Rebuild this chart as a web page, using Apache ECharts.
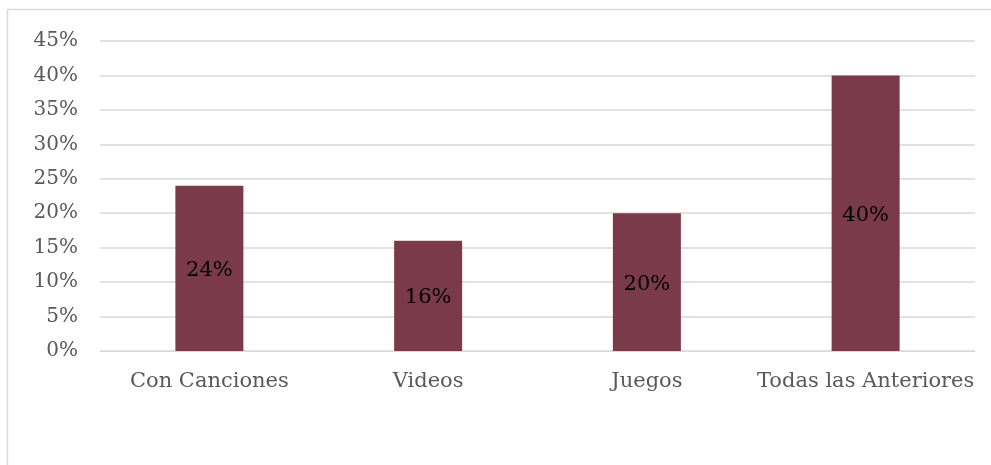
<!DOCTYPE html>
<html>
<head>
<meta charset="utf-8">
<script src="https://cdn.jsdelivr.net/npm/echarts@6/dist/echarts.min.js"></script>
<style>
  html, body { margin: 0; padding: 0; background: #ffffff; }
  #chart { width: 991px; height: 465px; }
</style>
</head>
<body>
<div id="chart"></div>
<script>
// Share of preferred activity types
const categories = ['Con Canciones', 'Videos', 'Juegos', 'Todas las Anteriores'];
const shares = [24, 16, 20, 40];
const yTicks = { min: 0, max: 45, interval: 5 };

const FONT = '"DejaVu Serif", "Liberation Serif", serif';

const chart = echarts.init(document.getElementById('chart'));
chart.setOption({
  animation: false,
  backgroundColor: '#ffffff',
  graphic: [{
    type: 'rect',
    shape: { x: 7.5, y: 9.5, width: 1100, height: 600 },
    style: { fill: 'none', stroke: '#d9d9d9', lineWidth: 1.5 },
    silent: true
  }],
  grid: { left: 100, right: 16, top: 41, bottom: 114, containLabel: false },
  xAxis: {
    type: 'category',
    data: categories,
    axisLine: { show: true, lineStyle: { color: '#d9d9d9', width: 1 } },
    axisTick: { show: false },
    axisLabel: { color: '#595959', fontFamily: FONT, fontSize: 21, margin: 20, interval: 0 }
  },
  yAxis: {
    type: 'value',
    min: yTicks.min,
    max: yTicks.max,
    interval: yTicks.interval,
    axisLine: { show: false },
    axisTick: { show: false },
    splitLine: { lineStyle: { color: '#d9d9d9', width: 1.5 } },
    axisLabel: {
      color: '#595959', fontFamily: FONT, fontSize: 20, margin: 22,
      formatter: v => v + '%'
    }
  },
  series: [{
    type: 'bar',
    data: shares,
    barWidth: 68,
    itemStyle: { color: '#7b3a4a' },
    label: {
      show: true,
      position: 'inside',
      color: '#000000',
      fontFamily: FONT,
      fontSize: 21,
      offset: [0, 2],
      formatter: p => p.value + '%'
    }
  }]
});
</script>
</body>
</html>
